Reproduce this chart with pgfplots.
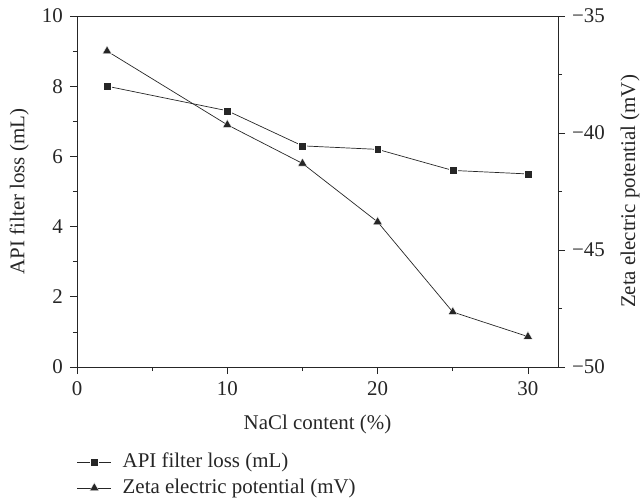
\documentclass[border=0pt]{standalone}
\usepackage{pgfplots}
\pgfplotsset{compat=1.18}
\usepackage{fontspec}
\setmainfont{Liberation Serif}
\definecolor{ink}{gray}{0.15}
\begin{document}
\fontsize{21}{25}\selectfont
\begin{tikzpicture}
\useasboundingbox (-77bp,-135bp) rectangle (563bp,367bp);
\begin{axis}[
  scale only axis, width=481bp, height=351bp,
  xmin=0, xmax=32, ymin=0, ymax=10,
  xtick={0,10,20,30}, minor xtick={5,15,25},
  ytick={0,2,4,6,8,10}, minor ytick={1,3,5,7,9},
  xtick pos=bottom, ytick pos=left,
  tick align=outside,
  major tick length=7bp, minor tick length=4bp,
  every tick/.style={ink, line width=0.8pt},
  axis line style={ink, line width=0.8pt},
  /pgf/number format/assume math mode=true,
  tick label style={font=\fontsize{21}{25}\selectfont, text=ink},
  label style={font=\fontsize{21}{25}\selectfont, text=ink},
  xlabel={NaCl content (\%)},
  ylabel={API filter loss (mL)},
  xlabel style={at={(axis description cs:0.5,-0.115)}, anchor=north},
  ylabel style={at={(axis description cs:-0.12,0.5)}, anchor=center},
  legend style={at={(axis description cs:0,-0.24)}, anchor=north west,
    draw=none, fill=none, inner sep=0pt, outer sep=0pt,
    font=\fontsize{21}{25}\selectfont, text=ink,
    row sep=4bp, cells={anchor=west}},
  legend image code/.code={\draw[mark repeat=2,mark phase=2] plot coordinates {(0bp,0bp)(17bp,0bp)(34bp,0bp)};},
]
\addplot[ink, line width=0.7pt, mark=square*, mark size=3.9bp,
  mark options={fill=ink, draw=white, line width=0.3pt}]
  coordinates {(2,8.0) (10,7.3) (15,6.3) (20,6.2) (25,5.6) (30,5.5)};
\addlegendentry{\hspace{9bp}API filter loss (mL)}
\addlegendimage{ink, line width=0.7pt, mark=triangle*, mark size=5.2bp, mark options={fill=ink, draw=white, line width=0.3pt}}
\addlegendentry{\hspace{9bp}Zeta electric potential (mV)}
\end{axis}
\begin{axis}[
  scale only axis, width=481bp, height=351bp,
  xmin=0, xmax=32, ymin=-50, ymax=-35,
  xtick=\empty, minor xtick={5,10,15,20,25,30},
  ytick={-50,-45,-40,-35}, yticklabels={−50,−45,−40,−35},
  minor ytick={-47.5,-42.5,-37.5},
  xtick pos=top, ytick pos=right, yticklabel pos=right,
  tick align=outside,
  major tick length=7bp, minor tick length=4bp,
  every tick/.style={ink, line width=0.8pt},
  axis line style={ink, line width=0.8pt},
  tick label style={font=\fontsize{21}{25}\selectfont, text=ink},
  label style={font=\fontsize{21}{25}\selectfont, text=ink},
  ylabel={Zeta electric potential (mV)},
  ylabel style={at={(axis description cs:1.15,0.5)}, anchor=center, rotate=0},
]
\addplot[ink, line width=0.7pt, mark=triangle*, mark size=5.2bp,
  mark options={fill=ink, draw=white, line width=0.3pt}]
  coordinates {(2,-36.5) (10,-39.65) (15,-41.3) (20,-43.8) (25,-47.65) (30,-48.7)};
\end{axis}
\end{tikzpicture}
\end{document}
